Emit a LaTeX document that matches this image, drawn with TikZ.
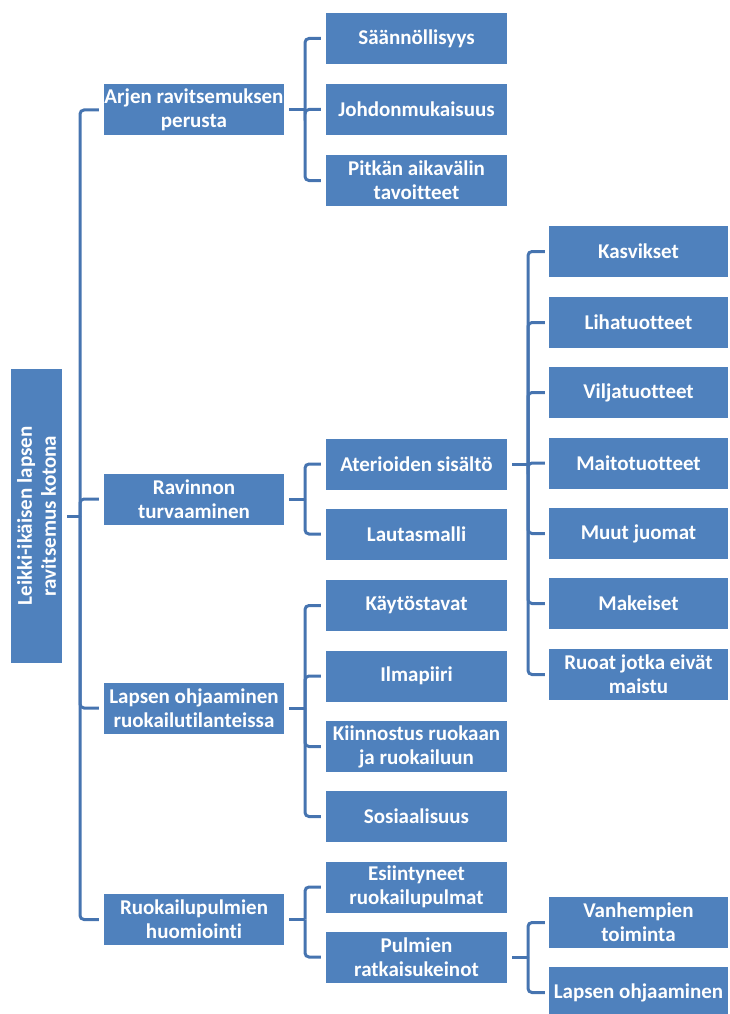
\documentclass[tikz,border=0pt]{standalone}
\usepackage{fontspec}
\setmainfont{Carlito}[Ligatures={NoCommon}]
\begin{document}
\begin{tikzpicture}[x=1pt,y=-1pt,
  box/.style={rectangle, fill=boxblue, text=white, inner sep=0pt, align=center,
    minimum height=51pt, font=\bfseries\fontsize{21}{24}\selectfont},
  bA/.style={box, minimum width=180pt},
  bB/.style={box, minimum width=181pt},
  bC/.style={box, minimum width=179pt},
  conn/.style={draw=connblue, line width=3pt, rounded corners=4pt}]
\definecolor{boxblue}{RGB}{79,129,189}
\definecolor{connblue}{RGB}{70,116,176}
\useasboundingbox (0,0) rectangle (730,1014);
% root
\node[box, rotate=90, minimum width=294pt, minimum height=51pt] (root) at (36.5,516)
  {Leikki-ikäisen lapsen\\ravitsemus kotona};
% level 1
\node[bA] (a1) at (194,110) {Arjen ravitsemuksen\\perusta};
\node[bA] (a2) at (194,499) {Ravinnon\\turvaaminen};
\node[bA] (a3) at (194,708) {Lapsen ohjaaminen\\ruokailutilanteissa};
\node[bA] (a4) at (194,919.5) {Ruokailupulmien\\huomiointi};
% level 2
\node[bB] (b1) at (416.5,38.5) {Säännöllisyys};
\node[bB] (b2) at (416.5,109.5) {Johdonmukaisuus};
\node[bB] (b3) at (416.5,180.5) {Pitkän aikavälin\\tavoitteet};
\node[bB] (b4) at (416.5,464) {Aterioiden sisältö};
\node[bB] (b5) at (416.5,534) {Lautasmalli};
\node[bB] (b6) at (416.5,605.5) {Käytöstavat};
\node[bB] (b7) at (416.5,676) {Ilmapiiri};
\node[bB] (b8) at (416.5,746.5) {Kiinnostus ruokaan\\ja ruokailuun};
\node[bB] (b9) at (416.5,816.5) {Sosiaalisuus};
\node[bB] (b10) at (416.5,887) {Esiintyneet\\ruokailupulmat};
\node[bB] (b11) at (416.5,957) {Pulmien\\ratkaisukeinot};
% level 3
\node[bC] (c1) at (638.5,251.5) {Kasvikset};
\node[bC] (c2) at (638.5,322.5) {Lihatuotteet};
\node[bC] (c3) at (638.5,392.5) {Viljatuotteet};
\node[bC] (c4) at (638.5,463) {Maitotuotteet};
\node[bC] (c5) at (638.5,533.5) {Muut juomat};
\node[bC] (c6) at (638.5,603.5) {Makeiset};
\node[bC] (c7) at (638.5,674.5) {Ruoat jotka eivät\\maistu};
\node[bC] (c8) at (638.5,922.5) {Vanhempien\\toiminta};
\node[bC] (c9) at (638.5,992.5) {Lapsen ohjaaminen};
% bus coordinates
\coordinate (x0) at (80,0);
\coordinate (x1) at (305,0);
\coordinate (x2) at (528,0);
% root connectors
\draw[conn] ([xshift=5pt]root.south) -- (root.south -| x0);
\foreach \c in {a1,a2,a3,a4}
  \draw[conn] ([xshift=-5pt]\c.west) -| (root.south -| x0);
% level 1 -> level 2
\foreach \p/\cl in {a1/{b1,b2,b3}, a2/{b4,b5}, a3/{b6,b7,b8,b9}, a4/{b10,b11}}{
  \draw[conn] ([xshift=5pt]\p.east) -- (\p.east -| x1);
  \foreach \c in \cl
    \draw[conn] ([xshift=-5pt]\c.west) -| (\p.east -| x1);
}
% level 2 -> level 3
\foreach \p/\cl in {b4/{c1,c2,c3,c4,c5,c6,c7}, b11/{c8,c9}}{
  \draw[conn] ([xshift=5pt]\p.east) -- (\p.east -| x2);
  \foreach \c in \cl
    \draw[conn] ([xshift=-4pt]\c.west) -| (\p.east -| x2);
}
\end{tikzpicture}
\end{document}
